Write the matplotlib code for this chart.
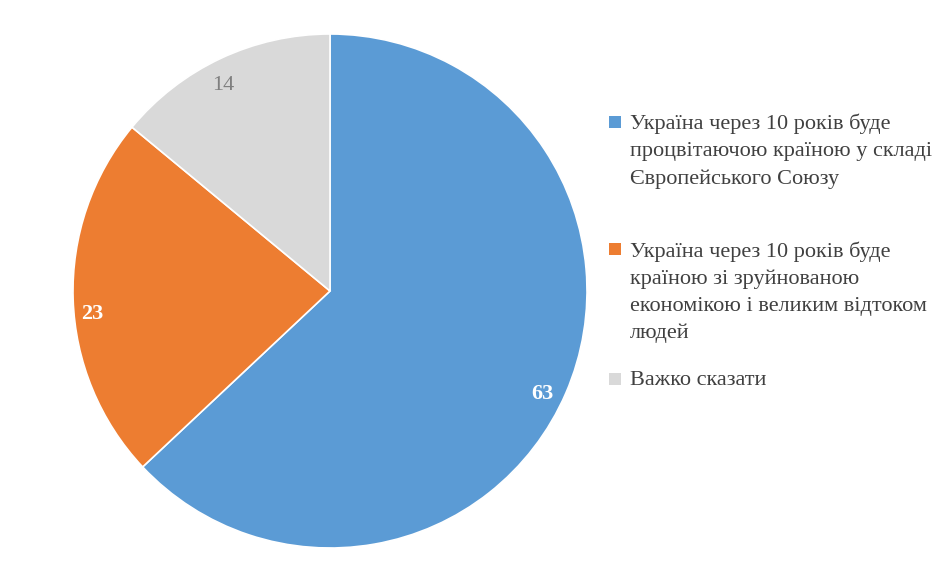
import matplotlib.pyplot as plt
from matplotlib.patches import Rectangle

# дані з діаграми
labels = [
    'Україна через 10 років буде\nпроцвітаючою країною у складі\nЄвропейського Союзу',
    'Україна через 10 років буде\nкраїною зі зруйнованою\nекономікою і великим відтоком\nлюдей',
    'Важко сказати',
]
values = [63, 23, 14]
colors = ['#5B9BD5', '#ED7D31', '#D9D9D9']
label_colors = ['white', 'white', '#7F7F7F']
label_weights = ['bold', 'bold', 'normal']

plt.rcParams['font.family'] = ['Liberation Serif', 'DejaVu Serif']

W, H = 950, 576
fig = plt.figure(figsize=(W / 100, H / 100), dpi=100)

# центр пирога ~ (330, 291), радіус ~257 px
cx, cy, r = 330, 291, 257
ax = fig.add_axes([(cx - r) / W, (H - cy - r) / H, 2 * r / W, 2 * r / H])

wedges, texts, autotexts = ax.pie(
    values, colors=colors, startangle=90, counterclock=False,
    autopct=lambda p: '%d' % round(p), pctdistance=0.9,
    wedgeprops=dict(linewidth=1.2, edgecolor='white'),
)
# невеликі зсуви підписів у пікселях, як в Excel
nudges = [(0, -11), (-7, -16), (-8, -4)]
for t, c, w, (dx, dy) in zip(autotexts, label_colors, label_weights, nudges):
    t.set_color(c)
    t.set_fontweight(w)
    t.set_fontsize(16)
    x, y = t.get_position()
    t.set_position((x + dx / r, y + dy / r))
ax.set_xlim(-1, 1)
ax.set_ylim(-1, 1)
ax.set_aspect('equal')

# легенда вручну (нерівні відступи як в оригіналі)
first_line_y = [122, 249, 379]
for y, lab, col in zip(first_line_y, labels, colors):
    fig.patches.append(Rectangle((609 / W, 1 - (y + 6) / H), 12 / W, 12 / H,
                                 transform=fig.transFigure, facecolor=col,
                                 edgecolor='none'))
    fig.text(630 / W, 1 - (y - 8) / H, lab, fontsize=16, color='#404040',
             va='top', ha='left', linespacing=1.55)

fig.savefig('out.png', dpi=100)
